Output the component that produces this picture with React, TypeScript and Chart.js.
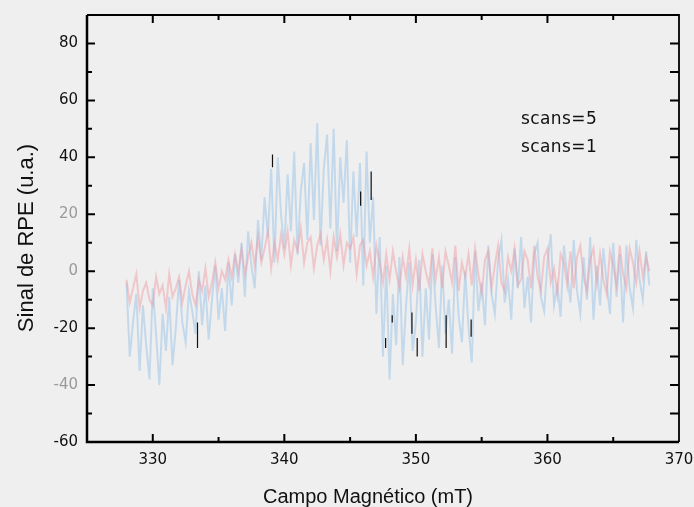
import React, { useEffect, useRef } from "react";
import { Chart, registerables } from "chart.js";

Chart.register(...registerables);

// Field sweep grid (mT)
const FIELD_START = 328;
const FIELD_STEP = 0.25;

// EPR signal, single scan (160 samples, 328 → 367.75 mT)
const scans1 = [
  -4, -30, -18, -8, -35, -12, -26, -38,
  -6, -22, -40, -15, -28, -9, -33, -20,
  -3, -18, -25, -7, -14, -22, 0, -19,
  -5, -24, -10, 2, -17, -6, -21, 3,
  -12, 6, -4, 10, -9, 14, 2, -6,
  18, 4, 26, 12, 36, 3, 40, 20,
  8, 34, 14, 42, 6, 28, 38, 11,
  45, 18, 52, 9, 36, 48, 15, 50,
  7, 40, 24, 46, 3, 35, 12, 38,
  -5, 42, 10, 26, -15, 12, -30, 2,
  -38, -8, -26, 5, -33, -12, 3, -28,
  -18, 4, -30, -6, -24, 6, -12, -27,
  2, -22, -10, -29, 5, -16, -25, 0,
  -20, -32, 7, -14, -4, -19, 9, -8,
  -15, 4, 11, -11, -3, -17, 8, -6,
  12, -13, -2, -18, 6, 10, -9, -14,
  3, 13, -12, -5, -16, 9, -1, -11,
  11, -7, -15, 5, -10, 12, -17, 2,
  -12, 8, -4, -15, 10, -9, 6, -18,
  9, -6, -13, 11, -3, -10, 7, -5,
];

// EPR signal, average of five scans (same grid)
const scans5 = [
  -3, -11, -6, -1, -13, -7, -4, -10,
  -12, -2, -8, -5, -13, -1, -9, -6,
  -2, -11, -5, 0, -8, -12, -3, -7,
  1, -9, -4, 3, -6, 0, -3, 4,
  -2, 6, 0, 8, -1, 5, 10, 2,
  12, 3, 8, 14, 1, 10, 4, 13,
  6, 14, 2, 11, 7, 15, 3, 10,
  12, 1, 9, 13, 4, 11, 0, 12,
  5, 13, 2, 10, 8, 12, -1, 9,
  11, 2, 7, -2, 9, 3, -4, 6,
  -3, 7, 0, -6, 5, -2, 8, -5,
  4, -7, 6, 0, -5, 8, -3, 5,
  -6, 7, 2, -4, 9, -7, 3, -2,
  6, -5, 8, -1, -8, 4, 7, -6,
  2, 9, -4, -7, 5, 0, 8, -5,
  -3, 7, 4, -6, 9, -2, -7, 5,
  8, -4, 1, -8, 6, 3, -5, 7,
  -6, 5, 9, -2, -7, 4, 8, -4,
  6, -3, -8, 7, 2, -5, 9, -1,
  -6, 8, 3, -4, 7, -2, 5, 0,
];

// Short dark spikes in the recorded trace
const spikeField = [333.4, 339.1, 345.8, 346.6, 347.7, 348.2, 349.7, 350.1, 352.3, 354.2];
const spikeTop = [-18, 41, 28, 35, -23.5, -15.5, -14.5, -23.5, -15.5, -17];
const spikeBottom = [-27, 36.5, 23, 25, -27, -18, -22, -30, -27, -23];

const xMajorTicks = [330, 340, 350, 360, 370];
const xMinorTicks = [335, 345, 355, 365];
const yMajorTicks = [-60, -40, -20, 0, 20, 40, 60, 80];
const yMinorTicks = [-50, -30, -10, 10, 30, 50, 70];
const fadedYLabels = [20, 0, -40];

const legendLabels = ["scans=5", "scans=1"];
const xTitle = "Campo Magnético (mT)";
const yTitle = "Sinal de RPE (u.a.)";

const FONT = "'Liberation Sans', Arial, sans-serif";
const TICK_FONT = "'DejaVu Sans', sans-serif";

const framePlugin = {
  id: "frame",
  beforeDraw(chart: any) {
    const { ctx, width, height } = chart;
    ctx.save();
    ctx.fillStyle = "#efefef";
    ctx.fillRect(0, 0, width, height);
    ctx.restore();
  },
  // soften the two noisy traces, keep the spikes crisp
  beforeDatasetDraw(chart: any, args: any) {
    if (args.index > 0) chart.ctx.filter = "blur(0.6px)";
  },
  afterDatasetDraw(chart: any) {
    chart.ctx.filter = "none";
  },
  afterDraw(chart: any) {
    const { ctx, chartArea, scales } = chart;
    const { left, right, top, bottom } = chartArea;
    ctx.save();
    ctx.strokeStyle = "#000";
    ctx.lineCap = "butt";

    // frame
    ctx.lineWidth = 2.5;
    ctx.beginPath();
    ctx.moveTo(left, top);
    ctx.lineTo(left, bottom);
    ctx.lineTo(right, bottom);
    ctx.stroke();
    ctx.lineWidth = 1.8;
    ctx.beginPath();
    ctx.moveTo(left, top);
    ctx.lineTo(right, top);
    ctx.lineTo(right, bottom);
    ctx.stroke();

    // inward ticks
    ctx.lineWidth = 2;
    const xs = scales.x;
    const ys = scales.y;
    const tickX = (v: number, len: number) => {
      const px = xs.getPixelForValue(v);
      ctx.beginPath();
      ctx.moveTo(px, bottom);
      ctx.lineTo(px, bottom - len);
      ctx.moveTo(px, top);
      ctx.lineTo(px, top + len);
      ctx.stroke();
    };
    const tickY = (v: number, len: number) => {
      const py = ys.getPixelForValue(v);
      ctx.beginPath();
      ctx.moveTo(left, py);
      ctx.lineTo(left + len, py);
      ctx.moveTo(right, py);
      ctx.lineTo(right - 9, py);
      ctx.stroke();
    };
    xMajorTicks.forEach((v) => v < 370 && tickX(v, 8));
    xMinorTicks.forEach((v) => tickX(v, 5));
    yMajorTicks.forEach((v) => v > -60 && tickY(v, 8));
    yMinorTicks.forEach((v) => tickY(v, 5));

    // axis titles
    ctx.fillStyle = "#111";
    ctx.font = `20px ${FONT}`;
    ctx.textAlign = "center";
    ctx.textBaseline = "alphabetic";
    ctx.fillText(xTitle, 368, 503);

    ctx.save();
    ctx.translate(33, 238);
    ctx.rotate(-Math.PI / 2);
    ctx.font = `22px ${FONT}`;
    ctx.fillText(yTitle, 0, 0);
    ctx.restore();

    // series labels
    ctx.font = `17px ${TICK_FONT}`;
    ctx.letterSpacing = "0.4px";
    ctx.textAlign = "left";
    ctx.fillText(legendLabels[0], 521, 124);
    ctx.fillText(legendLabels[1], 521, 152);
    ctx.letterSpacing = "0px";
    ctx.restore();
  },
};

export default function App() {
  const canvasRef = useRef<HTMLCanvasElement | null>(null);

  useEffect(() => {
    const canvas = canvasRef.current;
    if (!canvas) return;

    const toPoints = (vals: number[]) =>
      vals.map((v, i) => ({ x: FIELD_START + i * FIELD_STEP, y: v }));

    const spikePoints: { x: number; y: number | null }[] = [];
    spikeField.forEach((f, i) => {
      spikePoints.push({ x: f, y: spikeTop[i] });
      spikePoints.push({ x: f, y: spikeBottom[i] });
      spikePoints.push({ x: f, y: null });
    });

    const chart = new Chart(canvas, {
      type: "line",
      data: {
        datasets: [
          {
            label: "spikes",
            data: spikePoints as any,
            borderColor: "#111",
            borderWidth: 1.2,
            pointRadius: 0,
            spanGaps: false,
          },
          {
            label: legendLabels[0],
            data: toPoints(scans5),
            borderColor: "rgba(240,140,150,0.4)",
            borderWidth: 2,
            pointRadius: 0,
            tension: 0,
          },
          {
            label: legendLabels[1],
            data: toPoints(scans1),
            borderColor: "rgba(130,185,230,0.4)",
            borderWidth: 2,
            pointRadius: 0,
            tension: 0,
          },
        ],
      },
      options: {
        animation: false,
        responsive: false,
        events: [],
        layout: { padding: { left: 0, top: 15, right: 15, bottom: 0 } },
        plugins: {
          legend: { display: false },
          tooltip: { enabled: false },
        },
        scales: {
          x: {
            type: "linear",
            min: 325,
            max: 370,
            grid: { display: false, drawTicks: false },
            border: { display: false },
            afterBuildTicks: (s: any) => {
              s.ticks = xMajorTicks.map((v) => ({ value: v }));
            },
            afterFit: (s: any) => {
              s.height = 65;
              s.paddingLeft = 0;
              s.paddingRight = 0;
            },
            ticks: {
              padding: 9,
              maxRotation: 0,
              autoSkip: false,
              color: "#111",
              font: { family: TICK_FONT, size: 15 },
            },
          },
          y: {
            type: "linear",
            min: -60,
            max: 90,
            grid: { display: false, drawTicks: false },
            border: { display: false },
            afterBuildTicks: (s: any) => {
              s.ticks = yMajorTicks.map((v) => ({ value: v }));
            },
            afterFit: (s: any) => {
              s.width = 87;
              s.paddingTop = 0;
              s.paddingBottom = 0;
            },
            ticks: {
              padding: 9,
              autoSkip: false,
              color: (c: any) =>
                fadedYLabels.includes(c.tick.value) ? "#9a9a9a" : "#111",
              font: { family: TICK_FONT, size: 15 },
            },
          },
        },
      },
      plugins: [framePlugin],
    });

    return () => chart.destroy();
  }, []);

  return (
    <div style={{ position: "absolute", left: 0, top: 0, width: 694, height: 507, background: "#efefef" }}>
      <canvas ref={canvasRef} width={694} height={507} />
    </div>
  );
}
